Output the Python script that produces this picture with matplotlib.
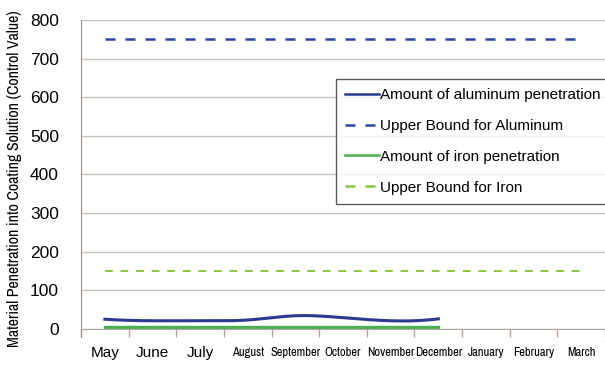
import matplotlib.pyplot as plt
from matplotlib import font_manager
from matplotlib.font_manager import FontProperties
import numpy as np

# months on the x axis
months = ['May', 'June', 'July', 'August', 'September', 'October',
          'November', 'December', 'January', 'February', 'March']
# measured penetration (May - December)
aluminum = [25, 21, 21, 23, 34, 29, 21, 26]
iron = [4, 4, 4, 4, 4, 4, 4, 4]
# control limits
al_bound = 750
fe_bound = 150

# look for a narrow sans face file (regular weight, upright)
narrow_file = None
cands = []
for f in font_manager.fontManager.ttflist:
    if f.style != 'normal' or f.weight not in (400, 'normal', 'regular'):
        continue
    if 'Narrow' in f.name or 'Condensed' in f.name or 'ondensed' in f.fname or f.stretch in ('condensed', 'semi-condensed'):
        cands.append(f)
cands.sort(key=lambda f: (0 if 'Narrow' in f.fname else 1, f.fname))
if cands:
    narrow_file = cands[0].fname


def narrow_font(size, shrink=0.8):
    if narrow_file:
        return FontProperties(fname=narrow_file, size=size)
    return FontProperties(family='Liberation Sans', size=size * shrink)


fig = plt.figure(figsize=(6.05, 3.65), dpi=100)
ax = fig.add_axes([0.134, 0.099, 0.866, 0.846])

x = np.arange(len(months))
xm = np.arange(len(aluminum))

# smooth the measured curve a bit
xs = np.linspace(0, len(aluminum) - 1, 200)
try:
    from scipy.interpolate import make_interp_spline
    al_s = make_interp_spline(xm, aluminum, k=3)(xs)
except ImportError:
    al_s = np.interp(xs, xm, aluminum)

ax.plot(xs, al_s, color='#2b3990', lw=2.2, label='Amount of aluminum penetration')
ax.plot(x, [al_bound] * len(x), color='#3140a5', lw=1.8, ls=(0, (4, 4)),
        label='Upper Bound for Aluminum')
ax.plot(xm, iron, color='#4caf50', lw=2.4, label='Amount of iron penetration')
ax.plot(x, [fe_bound] * len(x), color='#8cc63f', lw=1.4, ls=(0, (4, 4)),
        label='Upper Bound for Iron')

ax.set_xlim(-0.5, len(months) - 0.5)
ax.set_ylim(0, 800)
ax.set_yticks(range(0, 801, 100))
ax.tick_params(axis='y', length=0, labelsize=12.5, pad=16)
for t in ax.get_yticklabels():
    t.set_family('Liberation Sans')
ax.grid(axis='y', color='#c9c2bb', lw=1)
ax.set_axisbelow(True)

# category ticks sit between months
ax.set_xticks(np.arange(len(months) + 1) - 0.5)
ax.set_xticklabels([])
ax.tick_params(axis='x', length=6, color='#b0a8a0', width=1)
for i, m in enumerate(months):
    if i < 3:
        ax.text(i, -62, m, ha='center', va='center', fontsize=11, family='Liberation Sans')
    else:
        ax.text(i, -62, m, ha='center', va='center', fontproperties=narrow_font(9, 0.85))

for s in ['top', 'right']:
    ax.spines[s].set_visible(False)
ax.spines['left'].set_color('#9a8e84')
ax.spines['left'].set_bounds(-20, 800)
ax.spines['bottom'].set_color('#b0a8a0')

ax.set_ylabel('Material Penetration into Coating Solution (Control Value)',
              fontproperties=narrow_font(11.5, 0.8))
ax.yaxis.set_label_coords(-0.112, 0.485)

leg = ax.legend(loc='upper left', bbox_to_anchor=(0.487, 0.809), frameon=True,
                fancybox=False, edgecolor='#333333', borderaxespad=0,
                handlelength=2.2, handletextpad=0.05, borderpad=0.6,
                labelspacing=1.1, prop={'family': 'Liberation Sans', 'size': 11})
leg.get_frame().set_linewidth(1)
for h in leg.get_lines():
    h.set_linewidth(1.8)

fig.savefig('out.png', dpi=100)
